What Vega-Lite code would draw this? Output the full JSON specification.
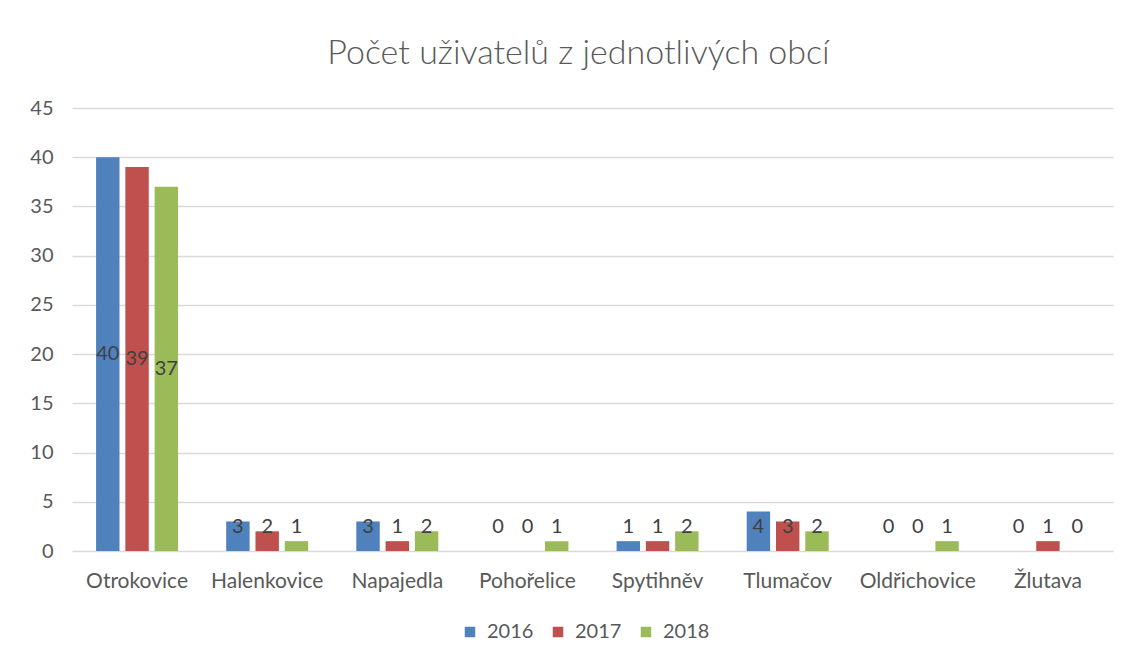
{
  "$schema": "https://vega.github.io/schema/vega-lite/v6.json",
  "width": 1041,
  "height": 443,
  "autosize": "none",
  "padding": {"left": 72, "top": 108, "right": 17, "bottom": 115},
  "background": "white",
  "title": {
    "text": "Počet uživatelů z jednotlivých obcí",
    "font": "Lato",
    "fontSize": 34,
    "fontWeight": 300,
    "color": "#595959",
    "anchor": "middle",
    "offset": 27,
    "dx": -14
  },
  "data": {
    "values": [
      {"obec": "Otrokovice", "rok": "2016", "pocet": 40},
      {"obec": "Otrokovice", "rok": "2017", "pocet": 39},
      {"obec": "Otrokovice", "rok": "2018", "pocet": 37},
      {"obec": "Halenkovice", "rok": "2016", "pocet": 3},
      {"obec": "Halenkovice", "rok": "2017", "pocet": 2},
      {"obec": "Halenkovice", "rok": "2018", "pocet": 1},
      {"obec": "Napajedla", "rok": "2016", "pocet": 3},
      {"obec": "Napajedla", "rok": "2017", "pocet": 1},
      {"obec": "Napajedla", "rok": "2018", "pocet": 2},
      {"obec": "Pohořelice", "rok": "2016", "pocet": 0},
      {"obec": "Pohořelice", "rok": "2017", "pocet": 0},
      {"obec": "Pohořelice", "rok": "2018", "pocet": 1},
      {"obec": "Spytihněv", "rok": "2016", "pocet": 1},
      {"obec": "Spytihněv", "rok": "2017", "pocet": 1},
      {"obec": "Spytihněv", "rok": "2018", "pocet": 2},
      {"obec": "Tlumačov", "rok": "2016", "pocet": 4},
      {"obec": "Tlumačov", "rok": "2017", "pocet": 3},
      {"obec": "Tlumačov", "rok": "2018", "pocet": 2},
      {"obec": "Oldřichovice", "rok": "2016", "pocet": 0},
      {"obec": "Oldřichovice", "rok": "2017", "pocet": 0},
      {"obec": "Oldřichovice", "rok": "2018", "pocet": 1},
      {"obec": "Žlutava", "rok": "2016", "pocet": 0},
      {"obec": "Žlutava", "rok": "2017", "pocet": 1},
      {"obec": "Žlutava", "rok": "2018", "pocet": 0}
    ]
  },
  "encoding": {
    "x": {
      "field": "obec",
      "type": "nominal",
      "sort": null,
      "title": null,
      "scale": {"paddingInner": 0.37, "paddingOuter": 0.185},
      "axis": {
        "labelAngle": 0,
        "labelFont": "Lato",
        "labelFontSize": 21,
        "labelColor": "#595959",
        "labelPadding": 19,
        "ticks": false,
        "domain": false,
        "grid": false
      }
    },
    "xOffset": {
      "field": "rok",
      "type": "nominal",
      "scale": {"paddingInner": 0.2, "paddingOuter": 0}
    }
  },
  "layer": [
    {
      "mark": {"type": "bar"},
      "encoding": {
        "y": {
          "field": "pocet",
          "type": "quantitative",
          "title": null,
          "scale": {"domain": [0, 45]},
          "axis": {
            "values": [0, 5, 10, 15, 20, 25, 30, 35, 40, 45],
            "labelFont": "Lato",
            "labelFontSize": 20,
            "labelColor": "#595959",
            "labelPadding": 19,
            "ticks": false,
            "domain": false,
            "gridColor": "#D9D9D9",
            "gridWidth": 1.5
          }
        },
        "color": {
          "field": "rok",
          "type": "nominal",
          "title": null,
          "scale": {"domain": ["2016", "2017", "2018"], "range": ["#4F81BD", "#C0504D", "#9BBB59"]},
          "legend": {
            "orient": "none",
            "direction": "horizontal",
            "legendX": 388,
            "legendY": 514,
            "symbolType": "square",
            "symbolSize": 110,
            "symbolStrokeWidth": 0,
            "labelFont": "Lato",
            "labelFontSize": 20,
            "labelColor": "#595959",
            "columnPadding": 14,
            "labelOffset": 7
          }
        }
      }
    },
    {
      "transform": [
        {"calculate": "max(datum.pocet / 2, 2.4)", "as": "labelY"}
      ],
      "mark": {
        "type": "text",
        "font": "Lato",
        "fontSize": 20,
        "color": "#404040",
        "baseline": "middle",
        "align": "center"
      },
      "encoding": {
        "y": {"field": "labelY", "type": "quantitative"},
        "text": {"field": "pocet", "type": "quantitative"}
      }
    }
  ],
  "config": {
    "view": {"stroke": null}
  }
}
